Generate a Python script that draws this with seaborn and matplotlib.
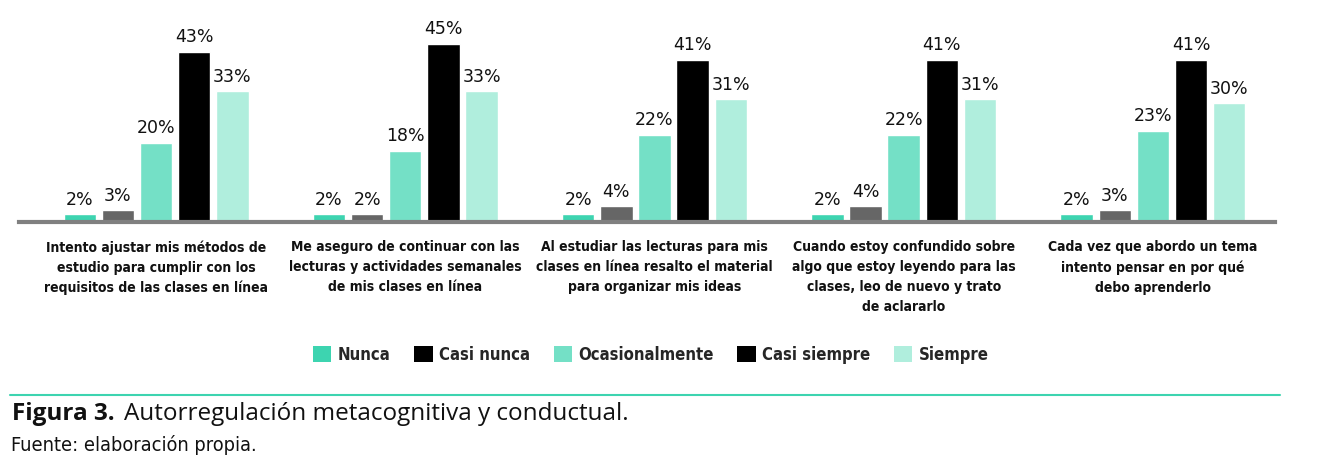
import numpy as np
import pandas as pd
import seaborn as sns
import matplotlib.pyplot as plt
from matplotlib.patches import Patch

sns.set_style("white")
plt.rcParams['font.family'] = ['DejaVu Sans']

# categories (items of the survey)
items = [
    "Intento ajustar mis métodos de\nestudio para cumplir con los\nrequisitos de las clases en línea",
    "Me aseguro de continuar con las\nlecturas y actividades semanales\nde mis clases en línea",
    "Al estudiar las lecturas para mis\nclases en línea resalto el material\npara organizar mis ideas",
    "Cuando estoy confundido sobre\nalgo que estoy leyendo para las\nclases, leo de nuevo y trato\nde aclararlo",
    "Cada vez que abordo un tema\nintento pensar en por qué\ndebo aprenderlo",
]
respuestas = ["Nunca", "Casi nunca", "Ocasionalmente", "Casi siempre", "Siempre"]

nunca = [2, 2, 2, 2, 2]
casi_nunca = [3, 2, 4, 4, 3]
ocasionalmente = [20, 18, 22, 22, 23]
casi_siempre = [43, 45, 41, 41, 41]
siempre = [33, 33, 31, 31, 30]

bar_colors = ["#3dd4b0", "#666666", "#74e0c6", "#000000", "#b0eedd"]
legend_colors = ["#3dd4b0", "#000000", "#74e0c6", "#000000", "#b0eedd"]

series = [nunca, casi_nunca, ocasionalmente, casi_siempre, siempre]
rows = []
for resp, vals in zip(respuestas, series):
    for it, v in zip(items, vals):
        rows.append({"item": it, "resp": resp, "pct": v})
df = pd.DataFrame(rows)

fig = plt.figure(figsize=(13.37, 4.76), dpi=100)
ax = fig.add_axes([19 / 1337, 254 / 476, 1256 / 1337, 198 / 476])

sns.barplot(data=df, x="item", y="pct", hue="resp", order=items,
            hue_order=respuestas, palette=bar_colors, width=0.765, gap=0.15,
            saturation=1, legend=False, ax=ax, errorbar=None)

# percent labels on top of the bars
for cont in ax.containers:
    ax.bar_label(cont, labels=[f"{int(v)}%" for v in cont.datavalues],
                 padding=4, fontsize=12.5, color="#111111")

ax.set_xlim(-0.55, 4.49)
ax.set_ylim(0, 50)
ax.set_xlabel("")
ax.set_ylabel("")
ax.set_yticks([])
for s in ["top", "right", "left"]:
    ax.spines[s].set_visible(False)
ax.spines["bottom"].set_color("#808080")
ax.spines["bottom"].set_linewidth(3)
ax.tick_params(axis="x", length=0, pad=13)
for lab in ax.get_xticklabels():
    lab.set_fontsize(10)
    lab.set_fontweight("bold")
    lab.set_fontstretch("condensed")
    lab.set_linespacing(1.55)
    lab.set_color("#111111")

# legend
handles = [Patch(facecolor=c, edgecolor="none") for c in legend_colors]
fig.legend(handles, respuestas, loc="center", bbox_to_anchor=(651 / 1337, 1 - 355 / 476),
           ncol=5, frameon=False, handlelength=1.1, handleheight=1.1,
           handletextpad=0.4, columnspacing=1.4,
           prop={"size": 12, "weight": "bold", "stretch": "condensed"})

# caption
fig.add_artist(plt.Line2D([10 / 1337, 1280 / 1337], [1 - 395 / 476, 1 - 395 / 476],
                          color="#3dd4b0", linewidth=1.5))
fig.text(12 / 1337, 1 - 414 / 476, "Figura 3.", fontsize=17.5, fontweight="bold",
         family=["Open Sans", "DejaVu Sans"], va="center", ha="left", color="#111111")
fig.text(124 / 1337, 1 - 414 / 476, "Autorregulación metacognitiva y conductual.",
         fontsize=17.5, family=["Open Sans", "DejaVu Sans"], va="center", ha="left",
         color="#111111")
fig.text(11 / 1337, 1 - 445 / 476, "Fuente: elaboración propia.", fontsize=14.3,
         fontstretch="condensed", va="center", ha="left", color="#111111")

plt.savefig("out.png", dpi=100)
